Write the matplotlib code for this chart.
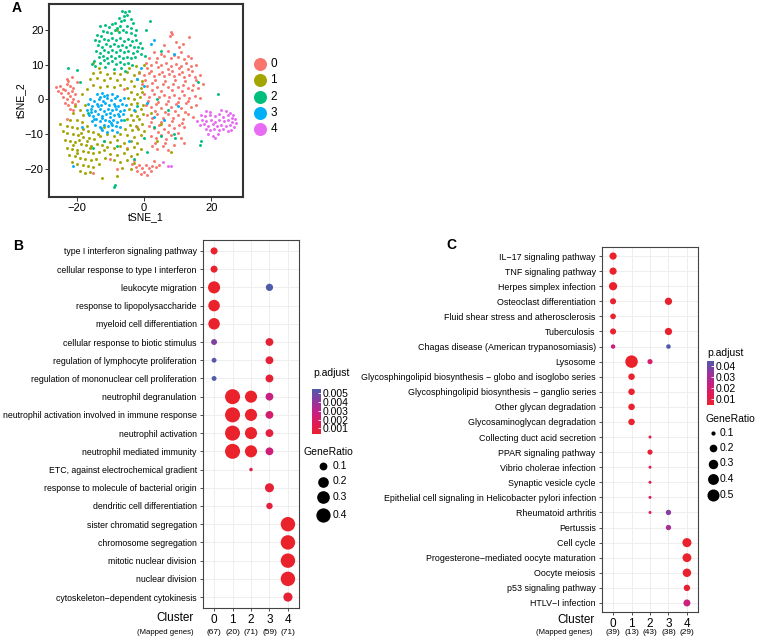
import numpy as np
import matplotlib
matplotlib.use("Agg")
import matplotlib.pyplot as plt
from matplotlib.colors import LinearSegmentedColormap, Normalize

plt.rcParams['font.family'] = ['Liberation Sans', 'DejaVu Sans']

# ---------------- data: panel A (tSNE) ----------------
tsne_labels = ["0", "1", "2", "3", "4"]
tsne_colors = ["#F8766D", "#A3A500", "#00BF7D", "#00B0F6", "#E76BF3"]

a0 = [(8,19.5),(8.3,18.8),(7.8,18.2),(13.5,18),(9.5,16.5),(11.5,16),(6,15.5),(10.5,15),
      (3,13.5),(5,13),(7,13.8),(9,12.8),(11,13.5),(13,12.5),(1.5,12),(4,12),(6,12.5),(8,11.8),(10,12.2),(12,11.5),(14,12),
      (0.5,10.5),(2,10),(3.5,10.8),(5,9.8),(6.5,10.5),(8,9.5),(9.5,10.3),(11,9.6),(12.5,10.4),(14,9.7),(15.5,10),(1,9),(4.2,9.2),(7.2,8.8),(10.3,8.9),(13.2,8.7),
      (-1.5,7.5),(0,7),(1.5,7.6),(3,6.8),(4.5,7.4),(6,6.7),(7.5,7.3),(9,6.6),(10.5,7.2),(12,6.5),(13.5,7.1),(15,6.4),(16.5,6.9),(2.2,8.2),(5.3,8),(8.4,8.1),(11.4,7.9),(14.4,8.2),
      (-0.5,4.5),(1,3.8),(2.5,4.6),(4,3.7),(5.5,4.4),(7,3.6),(8.5,4.3),(10,3.5),(11.5,4.2),(13,3.4),(14.5,4.1),(16,3.3),(17.5,4.5),(0.3,5.6),(3.3,5.5),(6.3,5.3),(9.3,5.6),(12.3,5.2),(15.3,5.5),
      (0,1.5),(1.5,0.8),(3,1.6),(4.5,0.7),(6,1.4),(7.5,0.6),(9,1.3),(10.5,0.5),(12,1.2),(13.5,0.4),(15,1.1),(16.5,0.3),(2.3,2.6),(5.2,2.4),(8.2,2.7),(11.2,2.3),(14.2,2.6),
      (0.5,-1.5),(2,-2.2),(3.5,-1.3),(5,-2.4),(6.5,-1.2),(8,-2.3),(9.5,-1.4),(11,-2.5),(12.5,-1.1),(14,-2.2),(15.5,-1.6),(1.2,-0.4),(4.2,-0.6),(7.2,-0.3),(10.2,-0.7),(13.2,-0.5),
      (1,-4.5),(2.5,-5.2),(4,-4.3),(5.5,-5.4),(7,-4.2),(8.5,-5.3),(10,-4.4),(11.5,-5.5),(13,-4.1),(14.5,-5),(3.2,-3.4),(6.2,-3.5),(9.2,-3.3),(12.2,-3.6),
      (1.5,-7.5),(3,-8.2),(4.5,-7.3),(6,-8.4),(7.5,-7.2),(9,-8.3),(10.5,-7.4),(12,-8),(2.2,-6.4),(5.2,-6.6),(8.2,-6.3),(11.2,-6.7),
      (2,-10.5),(3.5,-11.2),(5,-10.3),(6.5,-11.4),(8,-10.2),(4.2,-9.4),(7.2,-9.3),(10,-9.6),(11,-11),
      (2.5,-13.5),(4,-14.2),(5.5,-13.3),(7,-14.4),(3.2,-12.4),(6.2,-12.5),(9,-13),(12,-12.5),
      (-3.5,-18.5),(-2.5,-19.3),(-1.5,-18.7),(-0.5,-19.6),(0.5,-18.9),(1.5,-19.8),(2.5,-19.1),(3.5,-19.5),(4.5,-18.8),(-2,-20.5),(0,-20.8),(2,-20.6),(-1,-21.5),(1,-21.8),(-3,-17.5),(3,-17.8),
      (-26,3.5),(-25,4),(-24,3),(-23,4.5),(-22,3.8),(-21,3.2),(-25.5,2.4),(-24.5,1.8),(-23.5,2.6),(-22.5,1.9),(-21.5,2.3),(-20.5,1.6),(-24,0.8),(-23,0.2),(-22,0.9),(-21,0.1),(-23.5,-1),(-22.5,-1.6),(-21.5,-0.8),(-20.5,-1.3),(-22,-2.6),(-21,-3),(-23,6),(-21.5,6.5),(-20,5),(-22.5,5.2),(-23,-5.6),(-19.5,-0.5),
      (-5,-14),(-8,-20),(-15,-21),(-10,-17),(-2,-8),(-6,3)]

a1 = [(-15,7.5),(-13,7.8),(-11,7.2),(-9,7.7),(-7,7.3),(-5,7.9),(-3,7.1),(-1.5,7.8),(-16,5.8),(-14,6.2),(-12,5.6),(-10,6.1),(-8,5.5),(-6,6),(-4,5.4),(-2,5.9),(-0.5,5.2),(-15,4.2),(-13,3.6),(-11,4),(-9,3.5),(-7,4.1),(-5,3.4),(-3,3.9),(-1,3.3),(-17,3),(-4.5,9),(-2.5,9.6),(-13.5,9),
      (-4,2),(-2,1.5),(-0.5,2.2),(-4.8,0.5),(-3,0.2),(-1.2,0.8),(-4,-1.2),(-2.2,-1),(-0.4,-1.6),(-4.5,-2.8),(-2.8,-3.2),(-1,-2.6),(-3.8,-4.4),(-2,-4.8),(-0.2,-4.1),(-5,-5.5),(-3.2,-6),(-1.4,-5.6),(-4.2,-7.2),(-2.4,-7.6),(-0.6,-7),(-5.5,-8.6),(-3.6,-8.9),(-1.8,-8.4),(0,-9),
      (-11,-10),(-9,-10.5),(-7,-9.8),(-5,-10.3),(-3,-10.8),(-1,-10.2),(-12,-11.8),(-10,-12.2),(-8,-11.6),(-6,-12.4),(-4,-11.9),(-2,-12.5),(-11,-13.6),(-9,-14),(-7,-13.4),(-5,-14.2),(-3,-13.7),(-1,-14.3),(-10,-15.6),(-8,-16),(-6,-15.4),(-4,-16.2),(-2,-15.8),(-9,-17.5),(-7,-18),(-5,-17.3),(-3,-18.2),(-11.5,-16.8),(-6.5,-19.8),(-4,-20),(-8,-22),
      (-19,-3),(-21,-4),(-18,-4.5),(-22,-5.8),(-20,-6),(-18.5,-6.5),(-17,-7.5),(-23,-7.5),(-21.5,-7.8),(-19.8,-8.2),(-18.2,-8.6),(-16.5,-9),(-15,-9.4),(-22.8,-9.6),(-21.2,-10),(-19.6,-10.3),(-18,-10.7),(-16.4,-11),(-14.8,-11.4),(-13.2,-10.6),(-23.5,-11.6),(-22,-12),(-20.4,-12.3),(-18.8,-12.7),(-17.2,-13),(-15.6,-13.4),(-14,-12.8),(-12.5,-13.2),(-23,-13.8),(-21.4,-14.1),(-19.8,-14.5),(-18.2,-14.8),(-16.6,-15.2),(-15,-15.5),(-13.4,-15),(-22.2,-16),(-20.6,-16.3),(-19,-16.7),(-17.4,-17),(-15.8,-17.3),(-14.2,-17),(-21.5,-18),(-19.8,-18.4),(-18.2,-18.8),(-16.6,-19),(-15,-19.4),(-13.5,-18.6),(-19,-20.5),(-17.5,-21),(-16,-20.8),(-12.5,-22.5),(-24,-9),(-12,-8),(-13.6,-9.8),(-11.8,-14.4),(-20.5,-2),(-17.5,-1.5),(-18.5,1.5),(-20,-15.5),(-17,-11.8),(-21,-13),(-19.3,-11.5),(-16,-14),(-18.6,-9.6),
      (-8,20),(-15,10.5),(2,-4),(5,-7),(4,-12),(8,-15),(-25,-7),(0,10)]

a2 = [(-6.5,25.5),(-5.5,25),(-4.5,25.3),(-6,24),(-5,24.2),(-7.5,23.5),(-4,23),(-6.8,22.6),(-5.8,22.8),(-3.2,22),(-8.5,22),
      (-13,21),(-11.5,21.5),(-10.5,20.8),(-9.5,21.6),(-8,20.5),(-7,21.2),(-5,21),(-3.8,20.4),(-2.5,20),(-12.2,19.6),(-11,19.5),(-9.8,19.2),(-8.7,19.8),(-7.5,19.3),(-6.3,19.9),(-5.2,19.4),(-4,19),(-2.8,18.6),(-14,18.5),(-12.8,18.2),
      (-14.5,17.2),(-13.3,16.8),(-12,17.4),(-10.8,17),(-9.6,17.6),(-8.4,17.1),(-7.2,17.5),(-6,16.9),(-4.8,17.3),(-3.6,16.7),(-2.4,17),(-1.2,16.2),(-13.8,15.5),(-12.6,15.2),(-11.4,15.8),(-10.2,15.3),(-9,15.9),(-7.8,15.4),(-6.6,15.7),(-5.4,15.1),(-4.2,15.6),(-3,15.2),(-1.8,15),(-0.6,14.8),
      (-14.2,14),(-13,13.4),(-11.8,14.2),(-10.6,13.6),(-9.4,14.3),(-8.2,13.7),(-7,14.1),(-5.8,13.5),(-4.6,14),(-3.4,13.3),(-2.2,13.8),(-1,13),(0.2,12.6),(-13.5,12.2),(-12.3,12.6),(-11.1,12),(-9.9,12.4),(-8.7,11.9),(-7.5,12.5),(-6.3,12),(-5.1,12.3),(-3.9,11.8),(-2.7,12.2),
      (-14.8,11),(-13.2,10.5),(-12,11.2),(-10.8,10.4),(-9.6,10.9),(-8.4,10.2),(-7.2,10.8),(-6,10.3),(-4.8,10.6),(-3.6,9.9),(-11.5,9.2),(-9,8.6),(-6.8,9),(-5.5,8.3),(-15.3,10.2),(-14.5,9.5),
      (-20,8.5),(-19,5),(-22.5,9),(0.5,20),(1.8,22.5),(5,14),(16,5),(22,1.5),(17,-12),(16.5,-13),(9,-10),(9.2,-11),(5,-10.5),(0,-11),(3,-8),(-9,-25),(-8.6,-24.5),(-3,-17),(-15,-14),(-12,-12),(-6,-6),(-2,-2),(1,-15),(7,-3),(-16.5,-4),(-8,-13.5),(4,0)]

a3 = [(-14,1.5),(-12.5,1.8),(-11,1.2),(-9.5,1.6),(-8,1),(-13.2,0.6),
      (-16,0.2),(-14.8,-0.3),(-13.5,0.1),(-12.2,-0.4),(-11,0.3),(-9.8,-0.2),(-8.5,0.4),(-7.2,-0.1),(-6,0.5),
      (-16.5,-1.4),(-15.3,-1.8),(-14,-1.2),(-12.8,-1.7),(-11.5,-1.1),(-10.3,-1.6),(-9,-1.3),(-7.8,-1.9),(-6.5,-1.2),(-5.3,-1.7),
      (-17,-3.1),(-15.8,-2.7),(-14.5,-3.3),(-13.2,-2.8),(-12,-3.2),(-10.8,-2.6),(-9.5,-3.1),(-8.2,-2.7),(-7,-3.3),(-5.8,-2.9),
      (-16.3,-4.4),(-15,-4.8),(-13.8,-4.3),(-12.5,-4.7),(-11.2,-4.2),(-10,-4.9),(-8.8,-4.4),(-7.5,-4.8),(-6.3,-4.3),
      (-15.5,-6.1),(-14.2,-5.7),(-13,-6.2),(-11.7,-5.8),(-10.5,-6.3),(-9.2,-5.9),(-8,-6.4),(-6.8,-5.8),
      (-14.5,-7.4),(-13.2,-7.8),(-12,-7.3),(-10.8,-7.7),(-9.5,-7.2),(-8.3,-7.6),(-7,-7.9),
      (-12.5,-8.9),(-11,-9.2),(-9.5,-8.8),(-8,-9.3),
      (-13.8,-2),(-12.6,-5.4),(-10.1,-3.9),(-8.7,-1.9),(-11.9,0.9),(-14.9,-5.5),(-9.9,-6.9),(-7.6,-4.1),(-12.9,-8.3),(-15.7,-3.6),
      (2,16),(3,17),(-1,9),(0,4),(3,-5),(9,13),(-21,-19),(6,-6),(-3,-3),(1,-1),(-18.5,-8),(-4.5,-12),(10,-2),(-2,6)]

a4 = [(18.5,-3.2),(19.5,-3.5),(23,-3),(24.5,-3.4),(25.5,-4),(26.5,-4.5),(17,-4.5),(18.2,-4.8),(19.6,-4.4),(21,-4.7),(22.3,-4.2),(23.6,-4.9),(24.9,-4.6),(26,-5.2),(27,-5.6),
      (15.8,-6.1),(17.2,-5.8),(18.5,-6.3),(19.8,-5.9),(21.1,-6.4),(22.4,-5.8),(23.7,-6.2),(25,-5.9),(26.2,-6.5),(27.2,-6.9),
      (16.5,-7.4),(17.8,-7),(19.1,-7.5),(20.4,-7.1),(21.7,-7.6),(23,-7.2),(24.3,-7.7),(25.6,-7.3),(26.7,-8),
      (18.3,-8.6),(19.6,-8.9),(20.9,-8.4),(22.2,-8.8),(23.5,-8.5),(24.8,-9.1),(19,-10),(20.5,-10.4),(22,-9.8),(21,-11.2),(25.8,-8.8),
      (7,-19),(8,-19.2),(5.5,-18)]

tsne_points = [a0, a1, a2, a3, a4]

# ---------------- data: panel B (GO) ----------------
clusters = ["0", "1", "2", "3", "4"]
b_counts = [67, 20, 71, 59, 71]
b_terms = ["type I interferon signaling pathway", "cellular response to type I interferon",
           "leukocyte migration", "response to lipopolysaccharide", "myeloid cell differentiation",
           "cellular response to biotic stimulus", "regulation of lymphocyte proliferation",
           "regulation of mononuclear cell proliferation", "neutrophil degranulation",
           "neutrophil activation involved in immune response", "neutrophil activation",
           "neutrophil mediated immunity", "ETC, against electrochemical gradient",
           "response to molecule of bacterial origin", "dendritic cell differentiation",
           "sister chromatid segregation", "chromosome segregation", "mitotic nuclear division",
           "nuclear division", "cytoskeleton\u2212dependent cytokinesis"]
b_row   = [0, 1, 2, 2, 3, 4, 5, 5, 6, 6, 7, 7, 8, 8, 8, 9, 9, 9, 10, 10, 10, 11, 11, 11, 12, 13, 14, 15, 16, 17, 18, 19]
b_clu   = [0, 0, 0, 3, 0, 0, 0, 3, 0, 3, 0, 3, 1, 2, 3, 1, 2, 3, 1, 2, 3, 1, 2, 3, 2, 3, 3, 4, 4, 4, 4, 4]
b_ratio = [0.080, 0.080, 0.27, 0.085, 0.24, 0.24, 0.060, 0.10, 0.048, 0.10, 0.048, 0.10,
           0.45, 0.27, 0.10, 0.45, 0.27, 0.10, 0.45, 0.27, 0.10, 0.45, 0.27, 0.10,
           0.042, 0.136, 0.068, 0.41, 0.41, 0.41, 0.41, 0.14]
b_padj  = [0.0004, 0.0004, 0.00035, 0.0055, 0.00035, 0.0004, 0.0045, 0.0006, 0.0053, 0.0006, 0.0054, 0.0006,
           0.00035, 0.00035, 0.0028, 0.00035, 0.00035, 0.0022, 0.00035, 0.00035, 0.0009, 0.00035, 0.00035, 0.0025,
           0.0012, 0.0006, 0.0008, 0.00035, 0.00035, 0.00035, 0.00035, 0.0006]
b_cbar_ticks = [0.001, 0.002, 0.003, 0.004, 0.005]
b_size_ticks = [0.1, 0.2, 0.3, 0.4]

# ---------------- data: panel C (KEGG) ----------------
c_counts = [39, 13, 43, 38, 29]
c_terms = ["IL\u221217 signaling pathway", "TNF signaling pathway", "Herpes simplex infection",
           "Osteoclast differentiation", "Fluid shear stress and atherosclerosis", "Tuberculosis",
           "Chagas disease (American trypanosomiasis)", "Lysosome",
           "Glycosphingolipid biosynthesis \u2212 globo and isoglobo series",
           "Glycosphingolipid biosynthesis \u2212 ganglio series", "Other glycan degradation",
           "Glycosaminoglycan degradation", "Collecting duct acid secretion", "PPAR signaling pathway",
           "Vibrio cholerae infection", "Synaptic vesicle cycle",
           "Epithelial cell signaling in Helicobacter pylori infection", "Rheumatoid arthritis",
           "Pertussis", "Cell cycle", "Progesterone\u2212mediated oocyte maturation", "Oocyte meiosis",
           "p53 signaling pathway", "HTLV\u2212I infection"]
c_row   = [0, 1, 2, 3, 3, 4, 5, 5, 6, 6, 7, 7, 8, 9, 10, 11, 12, 13, 14, 15, 16, 17, 17, 18, 19, 20, 21, 22, 23]
c_clu   = [0, 0, 0, 0, 3, 0, 0, 3, 0, 3, 1, 2, 1, 1, 1, 1, 2, 2, 2, 2, 2, 2, 3, 3, 4, 4, 4, 4, 4]
c_ratio = [0.18, 0.18, 0.23, 0.14, 0.184, 0.128, 0.14, 0.184, 0.103, 0.105, 0.54, 0.116,
           0.154, 0.154, 0.154, 0.154, 0.093, 0.116, 0.093, 0.093, 0.093, 0.093, 0.12, 0.12,
           0.276, 0.26, 0.241, 0.15, 0.172]
c_padj  = [0.0045, 0.0045, 0.0045, 0.005, 0.0055, 0.005, 0.005, 0.0055, 0.022, 0.0445, 0.0045, 0.018,
           0.005, 0.005, 0.005, 0.005, 0.010, 0.0065, 0.011, 0.012, 0.013, 0.015, 0.035, 0.030,
           0.0045, 0.0045, 0.005, 0.0065, 0.022]
c_cbar_ticks = [0.01, 0.02, 0.03, 0.04]
c_size_ticks = [0.1, 0.2, 0.3, 0.4, 0.5]

# ---------------- styling ----------------
W, H = 763, 638
fig = plt.figure(figsize=(W / 100, H / 100), dpi=100)
PX2PT = 72.0 / 100.0

cmap = LinearSegmentedColormap.from_list(
    "padj", [(0.0, "#E9222C"), (0.25, "#E01C5A"), (0.5, "#C42186"), (0.75, "#8C3A9F"), (1.0, "#4F5CAB")])

def ax_px(l, t, r, b):
    return fig.add_axes([l / W, 1 - b / H, (r - l) / W, (b - t) / H])

def size_fn(vals, dmin, dmax):
    lo, hi = min(vals), max(vals)
    def f(v):
        v = np.asarray(v, dtype=float)
        d = dmin + (dmax - dmin) * np.sqrt(np.clip((v - lo) / (hi - lo), 0, None))
        return (d * PX2PT) ** 2
    return f

ov = fig.add_axes([0, 0, 1, 1], zorder=10)
ov.set_xlim(0, W)
ov.set_ylim(H, 0)
ov.axis("off")
ov.patch.set_alpha(0)

# ---------------- panel A ----------------
axA = ax_px(49, 4, 243, 197)
for k, pts in enumerate(tsne_points):
    arr = np.array(pts, dtype=float)
    axA.scatter(arr[:, 0], arr[:, 1], s=4.5, color=tsne_colors[k], linewidths=0)
axA.set_xlim(-28.2, 29.4)
axA.set_ylim(-28, 27.4)
axA.set_xticks([-20, 0, 20])
axA.set_yticks([-20, -10, 0, 10, 20])
axA.tick_params(labelsize=8, length=3, width=0.7, color="#333333", pad=1)
for sp in axA.spines.values():
    sp.set_color("#333333")
    sp.set_linewidth(1.5)
axA.set_xlabel("tSNE_1", fontsize=7.5, labelpad=-0.5)
axA.set_ylabel("tSNE_2", fontsize=7.5, labelpad=-1)

for k, lab in enumerate(tsne_labels):
    y = 64 + 16.3 * k
    ov.scatter([260], [y], s=(13 * PX2PT) ** 2, color=tsne_colors[k], linewidths=0)
    ov.text(270.5, y, lab, fontsize=8.5, va="center", ha="left")

# ---------------- dot panels ----------------
def dot_panel(box, nrows, terms, rows, clus, ratios, padjs, counts, dmin, dmax,
              clus_lbl_xy, mapped_xy, count_off, term_fs):
    ax = ax_px(*box)
    sf = size_fn(ratios, dmin, dmax)
    norm = Normalize(vmin=min(padjs), vmax=max(padjs))
    ax.set_axisbelow(True)
    ax.grid(color="#EBEBEB", linewidth=0.6)
    ax.scatter(clus, rows, s=sf(ratios), c=cmap(norm(padjs)), linewidths=0, zorder=3)
    ax.set_xlim(-0.6, 4.6)
    ax.set_ylim(nrows - 1 + 0.6, -0.6)
    ax.set_yticks(range(nrows))
    ax.set_yticklabels(terms, fontsize=term_fs)
    ax.set_xticks(range(len(clusters)))
    ax.set_xticklabels(clusters, fontsize=8.5)
    ax.tick_params(axis="y", length=2.5, width=0.6, color="#333333", pad=2)
    ax.tick_params(axis="x", length=2.5, width=0.6, color="#333333", pad=2)
    for sp in ax.spines.values():
        sp.set_color("#444444")
        sp.set_linewidth(0.8)
    for i, n in enumerate(counts):
        ax.annotate("(%d)" % n, xy=(i, 0), xycoords=("data", "axes fraction"),
                    xytext=(0, -count_off * PX2PT), textcoords="offset points",
                    ha="center", va="center", fontsize=6)
    ov.text(clus_lbl_xy[0], clus_lbl_xy[1], "Cluster", fontsize=8.5, ha="right", va="center")
    ov.text(mapped_xy[0], mapped_xy[1], "(Mapped genes)", fontsize=5.6, ha="right", va="center")
    return ax, sf, norm

def legend(norm, sf, cbar_box, ticks, fmt, title_xy, gr_xy, circ_x, lab_x, size_ticks, size_ys):
    ov.text(title_xy[0], title_xy[1], "p.adjust", fontsize=7.5, ha="left", va="center")
    cax = ax_px(*cbar_box)
    grad = np.linspace(norm.vmin, norm.vmax, 256)[:, None]
    cax.imshow(grad, aspect="auto", cmap=cmap, norm=norm, origin="lower",
               extent=[0, 1, norm.vmin, norm.vmax])
    cax.set_ylim(norm.vmin, norm.vmax)
    cax.set_xticks([])
    cax.yaxis.tick_right()
    cax.set_yticks(ticks)
    cax.set_yticklabels([fmt % t for t in ticks], fontsize=7.5)
    cax.tick_params(axis="y", length=2, width=0.6, color="white", direction="in", pad=1.5)
    for sp in cax.spines.values():
        sp.set_visible(False)
    ov.text(gr_xy[0], gr_xy[1], "GeneRatio", fontsize=7.5, ha="left", va="center")
    for v, y in zip(size_ticks, size_ys):
        ov.scatter([circ_x], [y], s=sf(v), color="black", linewidths=0)
        ov.text(lab_x, y, "%.1f" % v, fontsize=7.5, ha="left", va="center")

axB, sfB, normB = dot_panel((203, 240, 299, 608), len(b_terms), b_terms, b_row, b_clu, b_ratio, b_padj,
                            b_counts, 3.5, 15, (194, 618), (194, 632), 24, 6.35)
legend(normB, sfB, (312, 389, 321, 434), b_cbar_ticks, "%.3f", (313, 373), (304, 452),
       322.7, 332.7, b_size_ticks, [466, 481.5, 497, 515])

axC, sfC, normC = dot_panel((602, 247, 698, 612), len(c_terms), c_terms, c_row, c_clu, c_ratio, c_padj,
                            c_counts, 3, 12.5, (595, 620), (593, 632), 21, 6.4)
legend(normC, sfC, (707, 361, 714, 405), c_cbar_ticks, "%.2f", (707, 353), (706, 419),
       712.5, 720, c_size_ticks, [433, 448, 463.5, 479, 495])

# panel letters
ov.text(12, 8, "A", fontsize=10, fontweight="bold", ha="left", va="center")
ov.text(13, 246, "B", fontsize=10, fontweight="bold", ha="left", va="center")
ov.text(446, 245, "C", fontsize=10, fontweight="bold", ha="left", va="center")

fig.savefig("out.png", dpi=100)
